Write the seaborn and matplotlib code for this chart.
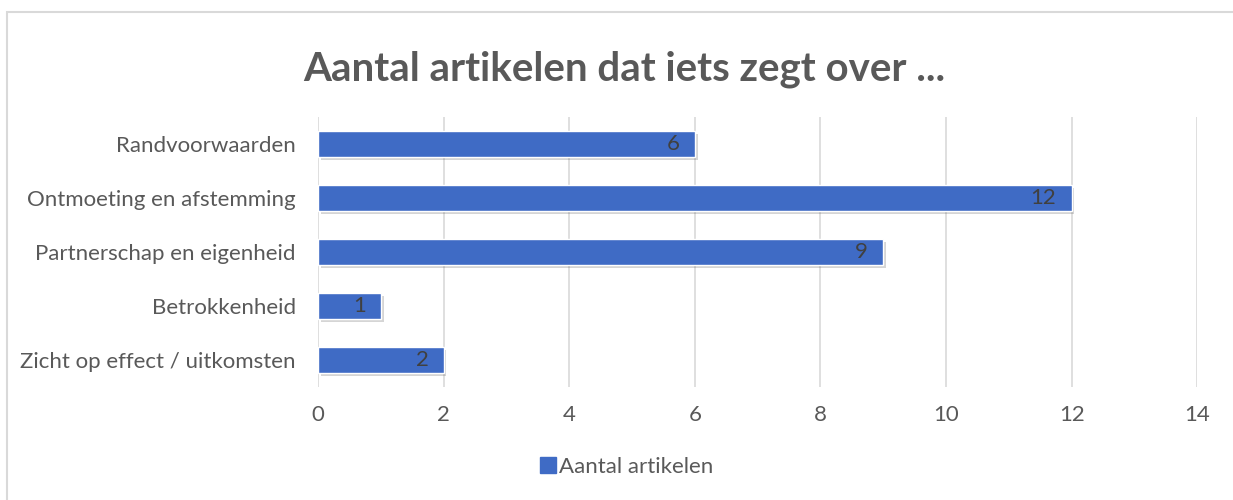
import matplotlib
matplotlib.use("Agg")
import matplotlib.pyplot as plt
import matplotlib.patheffects as pe
from matplotlib.patches import Rectangle
from matplotlib.lines import Line2D
import pandas as pd
import seaborn as sns

# Data
categories = ["Randvoorwaarden", "Ontmoeting en afstemming", "Partnerschap en eigenheid",
              "Betrokkenheid", "Zicht op effect / uitkomsten"]
values = [6, 12, 9, 1, 2]
series_name = "Aantal artikelen"
x_ticks = [0, 2, 4, 6, 8, 10, 12, 14]

df = pd.DataFrame({"categorie": categories, "aantal": values})

sns.set_theme(style="white")
plt.rcParams['font.family'] = ['Lato', 'DejaVu Sans']

text_grey = "#595959"
bar_blue = "#3F6BC5"

fig = plt.figure(figsize=(12.33, 5), dpi=100)
ax = fig.add_axes([0.258, 0.226, 0.713, 0.540])

sns.barplot(data=df, x="aantal", y="categorie", color=bar_blue, width=0.48,
            saturation=1, ax=ax, zorder=3)

# soft drop shadow like the original
for p in ax.patches:
    p.set_path_effects([pe.SimplePatchShadow(offset=(2, -2), alpha=0.22, shadow_rgbFace="#444444"),
                        pe.Normal()])

# value labels inside bar ends
for i, v in enumerate(values):
    ax.annotate(f"{v}", xy=(v, i), xytext=(-11, 0), textcoords="offset points",
                ha="right", va="center", fontsize=16, color="#404040", zorder=4)

ax.set_xlim(0, 14)
ax.set_xticks(x_ticks)
ax.set_xticklabels([str(t) for t in x_ticks])
ax.grid(axis="x", color="#D9D9D9", linewidth=1.2, zorder=0)
ax.set_axisbelow(True)
for s in ax.spines.values():
    s.set_visible(False)
ax.set_xlabel("")
ax.set_ylabel("")
ax.tick_params(axis="both", length=0, labelsize=16, labelcolor=text_grey)
ax.tick_params(axis="x", pad=13)
ax.tick_params(axis="y", pad=16)

fig.text(0.506, 0.862, "Aantal artikelen dat iets zegt over ...", ha="center", va="center",
         fontsize=29, fontweight="bold", color=text_grey)

handle = Line2D([], [], marker="s", linestyle="none", markersize=11,
                markerfacecolor=bar_blue, markeredgecolor=bar_blue)
fig.legend([handle], [series_name], loc="center", bbox_to_anchor=(0.508, 0.066),
           frameon=False, fontsize=16, labelcolor=text_grey, handletextpad=0.1,
           handlelength=0.8)

# chart border (only top and left visible)
fig.patches.append(Rectangle((7 / 1233, -0.1), 1.2, 0.1 + (500 - 12) / 500,
                             transform=fig.transFigure, fill=False,
                             edgecolor="#D9D9D9", linewidth=1.5))

fig.savefig("out.png", dpi=100)
